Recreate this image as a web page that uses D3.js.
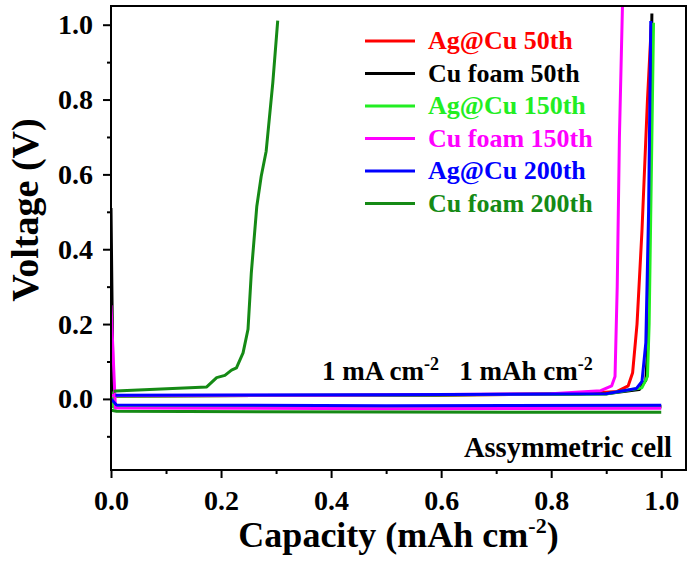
<!DOCTYPE html>
<html>
<head>
<meta charset="utf-8">
<script src="https://cdn.jsdelivr.net/npm/d3@7"></script>
<style>
  body { margin: 0; background: #fff; }
  text { font-family: "Liberation Serif", "Times New Roman", serif; font-weight: bold; }
</style>
</head>
<body>
<svg id="chart" width="688" height="563"></svg>
<script>
// series labels + colours (legend order)
const seriesNames = ['Ag@Cu 50th', 'Cu foam 50th', 'Ag@Cu 150th', 'Cu foam 150th', 'Ag@Cu 200th', 'Cu foam 200th'];
const seriesColors = ['#ff0000', '#000000', '#22ee22', '#ff00ff', '#0000ff', '#158a15'];

// plating segments [capacity, voltage]
const platingAgCu50 = [[0, 0.065], [0.006, -0.018], [0.3, -0.02], [0.7, -0.021], [1.0, -0.02]];
const platingCu50 = [[0, 0.51], [0.004, -0.02], [0.5, -0.022], [1.0, -0.021]];
const platingAgCu150 = [[0, 0.02], [0.005, -0.022], [0.5, -0.023], [1.0, -0.022]];
const platingCu150 = [[0, 0.25], [0.008, -0.024], [0.5, -0.026], [1.0, -0.025]];
const platingAgCu200 = [[0, 0.0], [0.01, -0.016], [0.5, -0.018], [1.0, -0.017]];
const platingCu200 = [[0, -0.03], [0.01, -0.033], [0.5, -0.035], [1.0, -0.036]];

// stripping segments [capacity, voltage]
const strippingAgCu50 = [[0, 0.008], [0.3, 0.009], [0.6, 0.01], [0.85, 0.013], [0.92, 0.02], [0.94, 0.035], [0.948, 0.07], [0.956, 0.2], [0.965, 0.45], [0.975, 0.8], [0.982, 1.0]];
const strippingCu50 = [[0, 0.008], [0.5, 0.01], [0.9, 0.014], [0.96, 0.025], [0.972, 0.05], [0.976, 0.15], [0.979, 0.5], [0.983, 1.03]];
const strippingAgCu150 = [[0, 0.008], [0.5, 0.01], [0.9, 0.013], [0.965, 0.03], [0.975, 0.06], [0.978, 0.2], [0.982, 0.6], [0.986, 1.005]];
const strippingCu150 = [[0, 0.009], [0.4, 0.01], [0.8, 0.014], [0.89, 0.022], [0.91, 0.035], [0.916, 0.06], [0.92, 0.3], [0.924, 0.7], [0.93, 1.08]];
const strippingAgCu200 = [[0.008, 0.01], [0.5, 0.011], [0.9, 0.014], [0.955, 0.028], [0.965, 0.047], [0.972, 0.15], [0.977, 0.5], [0.981, 1.01]];
const strippingCu200 = [[0.005, 0.02], [0.0085, 0.021], [0.174, 0.032], [0.192, 0.057], [0.207, 0.063], [0.219, 0.077], [0.228, 0.083], [0.24, 0.123], [0.249, 0.186], [0.255, 0.337], [0.265, 0.515], [0.273, 0.595], [0.282, 0.662], [0.294, 0.844], [0.303, 1.011]];

const platingData = [platingAgCu50, platingCu50, platingAgCu150, platingCu150, platingAgCu200, platingCu200];
const strippingData = [strippingAgCu50, strippingCu50, strippingAgCu150, strippingCu150, strippingAgCu200, strippingCu200];

const xMajorTicks = [0, 0.2, 0.4, 0.6, 0.8, 1.0];
const xMinorTicks = [0.1, 0.3, 0.5, 0.7, 0.9];
const yMajorTicks = [0, 0.2, 0.4, 0.6, 0.8, 1.0];
const yMinorTicks = [-0.1, 0.1, 0.3, 0.5, 0.7, 0.9];

var svg = d3.select('#chart');
var margin = { top: 6, left: 111, right: 2, bottom: 93 };
var width = 688 - margin.left - margin.right;
var height = 563 - margin.top - margin.bottom;

var x = d3.scaleLinear().domain([0, 1.045]).range([0, width]);
var y = d3.scaleLinear().domain([-0.19, 1.05]).range([height, 0]);

var g = svg.append('g').attr('transform', `translate(${margin.left},${margin.top})`);

g.append('clipPath').attr('id', 'plotclip')
 .append('rect').attr('width', width).attr('height', height);

// axes (major + minor ticks, outward)
function styleAxis(sel) {
  sel.select('.domain').remove();
  sel.selectAll('line').attr('stroke', '#000').attr('stroke-width', 2);
  sel.selectAll('text').attr('font-size', 28).attr('fill', '#000');
}

g.append('g').attr('transform', `translate(0,${height})`)
 .call(d3.axisBottom(x).tickValues(xMajorTicks).tickSize(8).tickPadding(12).tickFormat(d3.format('.1f')))
 .call(styleAxis);
g.append('g').attr('transform', `translate(0,${height})`)
 .call(d3.axisBottom(x).tickValues(xMinorTicks).tickSize(4).tickFormat(''))
 .call(styleAxis);
g.append('g')
 .call(d3.axisLeft(y).tickValues(yMajorTicks).tickSize(8).tickPadding(10).tickFormat(d3.format('.1f')))
 .call(styleAxis);
g.append('g')
 .call(d3.axisLeft(y).tickValues(yMinorTicks).tickSize(4).tickFormat(''))
 .call(styleAxis);

// curves
var line = d3.line().x(d => x(d[0])).y(d => y(d[1]));
var curves = g.append('g').attr('clip-path', 'url(#plotclip)');
seriesNames.forEach(function(name, i) {
  [platingData[i], strippingData[i]].forEach(function(seg) {
    curves.append('path').datum(seg)
          .attr('d', line)
          .attr('fill', 'none')
          .attr('stroke', seriesColors[i])
          .attr('stroke-width', 3)
          .attr('stroke-linejoin', 'round');
  });
});

// frame
g.append('rect').attr('width', width).attr('height', height)
 .attr('fill', 'none').attr('stroke', '#000').attr('stroke-width', 2);

// legend
var legend = svg.append('g').attr('transform', 'translate(365,41)');
seriesNames.forEach(function(name, i) {
  var row = legend.append('g').attr('transform', `translate(0,${i * 32.5})`);
  row.append('line').attr('x1', 0).attr('x2', 50).attr('y1', 0).attr('y2', 0)
     .attr('stroke', seriesColors[i]).attr('stroke-width', 3);
  row.append('text').attr('x', 63).attr('y', 8).attr('font-size', 26)
     .attr('fill', seriesColors[i]).text(name);
});

// annotations
var ann = svg.append('text').attr('x', 322).attr('y', 380).attr('font-size', 27).attr('fill', '#000');
ann.append('tspan').text('1 mA cm');
ann.append('tspan').attr('dy', -10).attr('font-size', 18).text('-2');
ann.append('tspan').attr('dy', 10).text('\u00a0\u00a0 1 mAh cm');
ann.append('tspan').attr('dy', -10).attr('font-size', 18).text('-2');

svg.append('text').attr('x', 672).attr('y', 457).attr('font-size', 28.5)
   .style('text-anchor', 'end').text('Assymmetric cell');

// axis titles
var xt = svg.append('text').attr('x', margin.left + width / 2).attr('y', 547)
            .attr('font-size', 36).style('text-anchor', 'middle');
xt.append('tspan').text('Capacity (mAh cm');
xt.append('tspan').attr('dy', -14).attr('font-size', 22).text('-2');
xt.append('tspan').attr('dy', 14).text(')');

svg.append('text').attr('transform', 'translate(38,210) rotate(-90)')
   .attr('font-size', 38).style('text-anchor', 'middle').text('Voltage (V)');
</script>
</body>
</html>
